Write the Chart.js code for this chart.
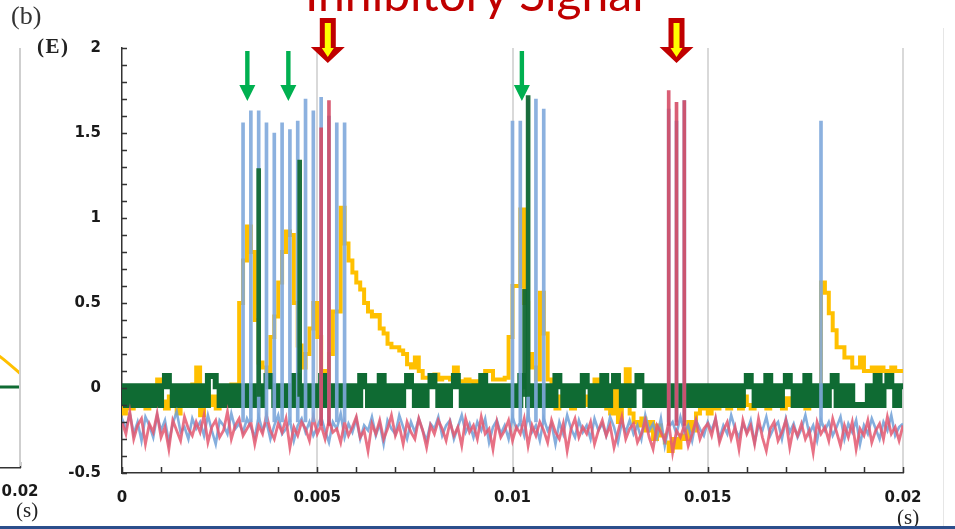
<!DOCTYPE html>
<html><head><meta charset="utf-8">
<script src="https://cdn.jsdelivr.net/npm/chart.js@4.4.1/dist/chart.umd.min.js"></script>
<style>
html,body{margin:0;padding:0;background:#fff;}
#wrap{position:relative;width:955px;height:529px;overflow:hidden;background:#fff;}
#left{position:absolute;left:-200px;top:0;z-index:1;}
#main{position:absolute;left:0;top:0;z-index:2;}
.t{position:absolute;white-space:nowrap;z-index:3;}
#title{left:305px;top:-31px;font:48px Lato, sans-serif;color:#c00000;line-height:48px;}
#lb{left:11px;top:1px;font:26px "Liberation Serif",serif;color:#333;}
#le{left:37px;top:34px;font:bold 21px "Liberation Serif",serif;color:#222;letter-spacing:1.5px;}
#s1{left:897px;top:505px;font:21px "Liberation Serif",serif;color:#222;}
#s0{left:16px;top:498px;font:21px "Liberation Serif",serif;color:#222;}
#bar{position:absolute;left:0;bottom:0;width:955px;height:3px;background:#2b4e8c;z-index:3;}
#edge{position:absolute;left:943px;top:28px;width:1px;height:498px;background:#e6e6e6;z-index:0;}
#lgrid{position:absolute;left:19px;top:48px;width:2px;height:418px;background:#cfcfcf;z-index:4;}
</style></head>
<body><div id="wrap">
<div id="edge"></div>
<canvas id="left" width="260" height="529"></canvas>
<canvas id="main" width="955" height="529"></canvas>
<div id="lgrid"></div>
<div class="t" id="title">Inhibitory Signal</div>
<div class="t" id="lb">(b)</div>
<div class="t" id="le">(E)</div>
<div class="t" id="s1">(s)</div>
<div class="t" id="s0">(s)</div>
<div id="bar"></div>
</div>
<script>
// ---- data (sampled every 0.1 ms, 0 .. 0.02 s) ----
const SAMPLE_STEP = 0.0001;
const blueNoise = [
-0.18,-0.24,-0.15,-0.27,-0.2,-0.31,-0.17,-0.22,-0.29,-0.16,
-0.25,-0.19,-0.32,-0.21,-0.14,-0.26,-0.23,-0.3,-0.18,-0.24,
-0.2,-0.28,-0.16,-0.25,-0.33,-0.19,-0.22,-0.27,-0.15,-0.24,
-0.21,-0.26,-0.18,-0.23,-0.29,-0.17,-0.25,-0.2,-0.3,-0.22,
-0.16,-0.27,-0.24,-0.19,-0.31,-0.22,-0.18,-0.26,-0.2,-0.28,
-0.23,-0.17,-0.25,-0.32,-0.2,-0.24,-0.15,-0.29,-0.21,-0.26,
-0.18,-0.3,-0.22,-0.25,-0.17,-0.28,-0.21,-0.33,-0.19,-0.24,
-0.27,-0.16,-0.23,-0.3,-0.2,-0.26,-0.18,-0.25,-0.31,-0.21,
-0.24,-0.17,-0.28,-0.22,-0.19,-0.3,-0.23,-0.16,-0.26,-0.21,
-0.29,-0.2,-0.25,-0.18,-0.32,-0.23,-0.19,-0.27,-0.22,-0.3,
-0.17,-0.24,-0.2,-0.28,-0.15,-0.26,-0.22,-0.31,-0.18,-0.25,
-0.21,-0.33,-0.2,-0.27,-0.16,-0.24,-0.29,-0.19,-0.26,-0.22,
-0.3,-0.18,-0.25,-0.21,-0.28,-0.17,-0.23,-0.32,-0.2,-0.26,
-0.19,-0.27,-0.22,-0.3,-0.16,-0.25,-0.21,-0.29,-0.18,-0.34,
-0.23,-0.2,-0.27,-0.17,-0.26,-0.22,-0.31,-0.19,-0.24,-0.28,
-0.2,-0.25,-0.18,-0.3,-0.22,-0.27,-0.16,-0.24,-0.29,-0.21,
-0.26,-0.19,-0.32,-0.22,-0.25,-0.17,-0.28,-0.23,-0.2,-0.3,
-0.18,-0.26,-0.21,-0.29,-0.24,-0.16,-0.27,-0.22,-0.31,-0.19,
-0.25,-0.2,-0.28,-0.23,-0.17,-0.3,-0.21,-0.26,-0.19,-0.33,
-0.22,-0.27,-0.18,-0.24,-0.3,-0.2,-0.25,-0.16,-0.28,-0.23,
-0.21];
const redNoise = [
-0.2,-0.27,-0.14,-0.3,-0.22,-0.18,-0.33,-0.21,-0.26,-0.15,
-0.29,-0.23,-0.36,-0.19,-0.25,-0.31,-0.17,-0.24,-0.28,-0.2,
-0.26,-0.16,-0.32,-0.23,-0.19,-0.29,-0.25,-0.14,-0.3,-0.22,
-0.18,-0.28,-0.24,-0.2,-0.33,-0.22,-0.27,-0.16,-0.25,-0.3,
-0.21,-0.26,-0.18,-0.35,-0.23,-0.28,-0.2,-0.24,-0.31,-0.17,
-0.27,-0.22,-0.3,-0.19,-0.26,-0.24,-0.32,-0.2,-0.28,-0.23,
-0.17,-0.29,-0.25,-0.37,-0.21,-0.27,-0.19,-0.3,-0.24,-0.16,
-0.28,-0.22,-0.33,-0.2,-0.26,-0.3,-0.18,-0.25,-0.35,-0.22,
-0.27,-0.19,-0.24,-0.31,-0.2,-0.28,-0.23,-0.34,-0.18,-0.26,
-0.22,-0.3,-0.17,-0.27,-0.24,-0.36,-0.2,-0.29,-0.25,-0.19,
-0.31,-0.23,-0.27,-0.18,-0.34,-0.22,-0.28,-0.2,-0.25,-0.32,
-0.19,-0.26,-0.3,-0.21,-0.37,-0.24,-0.18,-0.29,-0.23,-0.27,
-0.2,-0.33,-0.25,-0.19,-0.28,-0.22,-0.35,-0.26,-0.17,-0.3,
-0.24,-0.21,-0.32,-0.27,-0.19,-0.29,-0.36,-0.22,-0.26,-0.31,
-0.2,-0.38,-0.25,-0.29,-0.22,-0.34,-0.27,-0.19,-0.3,-0.24,
-0.21,-0.28,-0.18,-0.32,-0.25,-0.2,-0.3,-0.23,-0.36,-0.19,
-0.27,-0.22,-0.33,-0.18,-0.29,-0.37,-0.24,-0.2,-0.31,-0.26,
-0.19,-0.35,-0.23,-0.28,-0.21,-0.3,-0.25,-0.38,-0.2,-0.27,
-0.23,-0.31,-0.18,-0.26,-0.34,-0.22,-0.29,-0.2,-0.36,-0.24,
-0.28,-0.19,-0.32,-0.25,-0.21,-0.3,-0.17,-0.27,-0.23,-0.31,
-0.22];
const greenTrace = [
-0.1,0.01,-0.1,0.01,-0.1,0.01,-0.1,0.01,-0.1,0.01,
-0.1,0.01,0.07,0.01,-0.1,0.01,-0.1,0.01,-0.1,0.01,
-0.1,0.01,-0.1,0.07,0.07,0.01,-0.1,0.01,-0.1,0.01,
-0.1,0.01,-0.1,0.01,-0.1,0.01,-0.1,0.01,0.07,0.01,
-0.1,0.01,-0.1,0.01,-0.1,0.07,-0.1,0.01,-0.1,0.01,
-0.1,0.01,0.07,-0.1,0.01,-0.1,0.01,-0.1,0.01,-0.1,
0.01,-0.1,0.07,0.01,-0.1,0.01,-0.1,0.07,-0.1,0.01,
-0.1,0.01,-0.1,0.01,0.07,0.01,-0.1,0.01,-0.1,0.01,
0.07,0.01,-0.1,0.01,-0.1,0.01,0.07,0.01,-0.1,0.01,
-0.1,0.01,-0.1,0.07,-0.1,0.01,-0.1,0.01,-0.1,0.01,
-0.1,0.01,-0.1,0.07,0.01,-0.1,0.01,-0.1,0.01,-0.1,
0.01,-0.1,0.07,0.01,-0.1,0.01,-0.1,0.01,-0.1,0.07,
0.01,-0.1,0.01,-0.1,0.07,-0.1,0.01,0.07,0.01,-0.1,
0.01,-0.1,0.01,0.07,0.01,-0.1,0.01,-0.1,0.01,-0.1,
0.01,-0.1,0.01,-0.1,0.01,-0.1,0.01,-0.1,0.01,-0.1,
0.01,-0.1,0.01,-0.1,0.01,-0.1,0.01,-0.1,0.01,-0.1,
0.01,0.07,0.01,-0.1,0.01,-0.1,0.07,-0.1,0.01,-0.1,
0.01,0.07,0.01,-0.1,0.01,-0.1,0.07,-0.1,0.01,-0.1,
0.01,-0.1,0.01,0.07,-0.1,0.01,-0.1,0.01,-0.1,-0.1,
-0.1,-0.1,0.01,-0.1,0.07,-0.1,0.01,0.07,0.01,-0.1,
0.01];
const yellowTrace = [
-0.1,-0.15,-0.05,-0.12,-0.08,-0.1,-0.05,-0.12,-0.1,-0.06,
0.05,-0.08,-0.12,-0.05,-0.1,-0.15,-0.06,-0.1,-0.05,0.02,
0.12,-0.16,-0.08,-0.1,-0.05,-0.12,-0.08,-0.1,-0.04,0.02,
0.0,0.5,0.75,0.95,0.8,0.4,0.15,0.12,0.05,0.3,
0.42,0.62,0.8,0.92,0.9,0.5,0.25,0.12,0.2,0.35,
0.5,0.3,0.1,0.05,0.2,0.45,0.45,1.06,0.85,0.75,
0.68,0.62,0.58,0.5,0.45,0.42,0.43,0.35,0.32,0.26,
0.24,0.24,0.22,0.2,0.14,0.12,0.18,0.1,0.06,0.06,
0.06,0.08,0.05,0.06,0.06,0.05,0.12,0.04,0.04,0.05,
0.04,0.03,0.04,0.04,0.1,0.1,0.05,0.05,0.05,0.06,
0.3,0.6,0.6,1.05,0.5,0.2,0.12,0.05,0.56,0.32,
0.05,-0.08,-0.12,-0.05,-0.1,-0.06,-0.12,-0.08,-0.1,-0.05,
-0.1,-0.08,0.05,-0.1,0.05,-0.12,-0.15,0.0,-0.2,-0.1,
0.11,-0.15,-0.2,-0.22,-0.18,-0.25,-0.2,-0.3,-0.22,-0.28,
-0.32,-0.37,-0.3,-0.35,-0.28,-0.3,-0.2,-0.25,-0.15,-0.12,
-0.1,-0.15,-0.08,-0.12,-0.1,-0.06,-0.12,-0.1,-0.08,-0.12,
-0.05,-0.1,-0.12,-0.06,-0.1,-0.08,-0.12,-0.05,-0.1,-0.08,
-0.12,-0.06,-0.1,-0.08,-0.05,-0.1,-0.12,-0.06,-0.1,0.0,
0.62,0.56,0.44,0.34,0.24,0.24,0.18,0.18,0.12,0.12,
0.18,0.1,0.1,0.12,0.08,0.12,0.1,0.1,0.12,0.1,
0.1];
// spikes (time s, peak value), drawn from the noise baseline
const blueSpikeT = [0.0031,0.0033,0.0035,0.0037,0.0039,0.0041,0.0043,0.0045,0.0047,0.0049,0.0051,0.0053,0.0055,0.0057,
                    0.0100,0.0102,0.0104,0.0106,0.0108, 0.0140,0.0142,0.0144, 0.0179];
const blueSpikeV = [1.56,1.63,1.63,1.56,1.50,1.56,1.52,1.57,1.70,1.63,1.71,1.60,1.56,1.56,
                    1.57,1.57,1.70,1.70,1.64, 1.64,1.57,1.69, 1.57];
const blueSpikeBase = -0.2;
const redSpikeT = [0.0051,0.0053,0.0140,0.0142,0.0144];
const redSpikeV = [1.53,1.69,1.75,1.68,1.69];
const redSpikeBase = -0.22;
const greenSpikeT = [0.0035,0.00455,0.01031,0.0104];
const greenSpikeV = [1.29,1.34,0.58,1.72];
const greenSpikeBase = -0.05;
// annotation arrows (time s)
const inhibitoryArrowT = [0.00527,0.01420];
const excitatoryArrowT = [0.00321,0.00426,0.01024];
// left (previous) panel tail
const leftT = [0.0144,0.016,0.017,0.018,0.0185,0.019,0.0195,0.02];
const leftYellow = [0.9,0.7,0.55,0.4,0.33,0.26,0.18,0.085];
const leftGreen = [0,0,0,0,0,0,0,0];
const xTickLabels = ['0','0.005','0.01','0.015','0.02'];
const yTickLabels = ['-0.5','0','0.5','1','1.5','2'];

// ---- helpers ----
const times = blueNoise.map((_, i) => +(i * SAMPLE_STEP).toFixed(4));
const pts = arr => arr.map((v, i) => ({x: times[i], y: v}));
const bars = (ts, vs, base) => ts.map((t, i) => ({x: t, y: [base, vs[i]]}));
const isMajorX = v => Math.abs(v / 0.005 - Math.round(v / 0.005)) < 1e-6;
const isMajorY = v => Math.abs(v * 2 - Math.round(v * 2)) < 1e-6;
const xLabel = v => { if (!isMajorX(v)) return ''; const k = Math.round(v / 0.005); return xTickLabels[k] ?? ''; };
const yLabel = v => { if (!isMajorY(v)) return ''; const k = Math.round(v * 2) + 1; return yTickLabels[k] ?? ''; };
const tickFont = {family: 'DejaVu Sans', weight: 'bold', size: 15};
const AXIS = '#333';

const innerTicks = {
  id: 'innerTicks',
  afterDraw(chart) {
    const {ctx, chartArea: a, scales} = chart;
    ctx.save();
    ctx.strokeStyle = AXIS; ctx.lineWidth = 1.5;
    ctx.beginPath();
    if (scales.y && scales.y.options.display !== false) {
      scales.y.ticks.forEach(t => { const py = Math.round(scales.y.getPixelForValue(t.value)) + 0.5; ctx.moveTo(a.left, py); ctx.lineTo(a.left + 5, py); });
    }
    const xs = scales.x;
    xs.ticks.forEach(t => { const px = Math.round(xs.getPixelForValue(t.value)) + 0.5; if (px < a.left - 1 || px > a.right + 1) return; ctx.moveTo(px, a.bottom); ctx.lineTo(px, a.bottom - 6); });
    ctx.stroke();
    ctx.restore();
  }
};

const arrows = {
  id: 'arrows',
  afterDraw(chart) {
    const {ctx, scales: {x}} = chart;
    ctx.save();
    inhibitoryArrowT.forEach(t => {
      const cx = x.getPixelForValue(t);
      ctx.fillStyle = '#c00000';
      ctx.beginPath();
      ctx.moveTo(cx - 8, 18); ctx.lineTo(cx + 8, 18); ctx.lineTo(cx + 8, 47); ctx.lineTo(cx + 17, 47);
      ctx.lineTo(cx, 63); ctx.lineTo(cx - 17, 47); ctx.lineTo(cx - 8, 47); ctx.closePath(); ctx.fill();
      ctx.fillStyle = '#ffff00';
      ctx.beginPath();
      ctx.moveTo(cx - 3, 23); ctx.lineTo(cx + 3, 23); ctx.lineTo(cx + 3, 48); ctx.lineTo(cx + 6, 48);
      ctx.lineTo(cx, 57); ctx.lineTo(cx - 6, 48); ctx.lineTo(cx - 3, 48); ctx.closePath(); ctx.fill();
    });
    excitatoryArrowT.forEach(t => {
      const cx = x.getPixelForValue(t);
      ctx.fillStyle = '#00b050';
      ctx.beginPath();
      ctx.moveTo(cx - 2.2, 51); ctx.lineTo(cx + 2.2, 51); ctx.lineTo(cx + 2.2, 85); ctx.lineTo(cx + 8, 85);
      ctx.lineTo(cx, 101); ctx.lineTo(cx - 8, 85); ctx.lineTo(cx - 2.2, 85); ctx.closePath(); ctx.fill();
    });
    ctx.restore();
  }
};

const lineDs = (label, data, color, width, stepped) => ({type: 'line', label, data, borderColor: color, borderWidth: width,
  pointRadius: 0, tension: 0, fill: false, stepped: stepped || false, borderJoinStyle: 'miter'});
const barDs = (label, data, color, thick) => ({type: 'bar', label, data, backgroundColor: color, borderWidth: 0,
  barThickness: thick, grouped: false});

new Chart(document.getElementById('main'), {
  type: 'line',
  data: {datasets: [
    barDs('red spikes', bars(redSpikeT, redSpikeV, redSpikeBase), 'rgba(212,72,98,0.88)', 3),
    barDs('green spikes', bars(greenSpikeT, greenSpikeV, greenSpikeBase), 'rgba(18,105,52,0.95)', 4),
    barDs('blue spikes', bars(blueSpikeT, blueSpikeV, blueSpikeBase), 'rgba(128,168,220,0.9)', 3),
    lineDs('red', pts(redNoise), 'rgba(228,88,112,0.85)', 2.8),
    lineDs('blue', pts(blueNoise), 'rgba(112,160,215,0.85)', 2.6),
    lineDs('green', pts(greenTrace), '#0f6b33', 6, 'after'),
    lineDs('yellow', pts(yellowTrace), '#ffc000', 4, 'after')
  ]},
  options: {
    responsive: false, animation: false, devicePixelRatio: 1,
    layout: {padding: {left: 0, right: 52, top: 48, bottom: 0}},
    scales: {
      x: {type: 'linear', min: 0, max: 0.02, offset: false,
        afterFit(s) { s.height = 56; },
        grid: {offset: false, drawTicks: false, lineWidth: 2, color: c => (c.tick && isMajorX(c.tick.value) && c.tick.value > 0) ? '#d9d9d9' : 'rgba(0,0,0,0)'},
        border: {color: AXIS, width: 1.5},
        ticks: {stepSize: 0.001, autoSkip: false, maxRotation: 0, padding: 16, font: tickFont, color: '#1a1a1a', callback: xLabel}},
      y: {type: 'linear', min: -0.5, max: 2,
        afterFit(s) { s.width = 122; },
        grid: {display: false, drawTicks: false},
        border: {color: AXIS, width: 1.5},
        ticks: {stepSize: 0.1, autoSkip: false, padding: 21, font: tickFont, color: '#1a1a1a', callback: yLabel}}
    },
    plugins: {legend: {display: false}, tooltip: {enabled: false}}
  },
  plugins: [innerTicks, arrows]
});

new Chart(document.getElementById('left'), {
  type: 'line',
  data: {datasets: [
    {data: leftT.map((t, i) => ({x: t, y: leftGreen[i]})), borderColor: '#0f6b33', borderWidth: 3, pointRadius: 0},
    {data: leftT.map((t, i) => ({x: t, y: leftYellow[i]})), borderColor: '#ffc000', borderWidth: 3, pointRadius: 0, tension: 0.3}
  ]},
  options: {
    responsive: false, animation: false, devicePixelRatio: 1,
    layout: {padding: {left: 0, right: 40, top: 47, bottom: 0}},
    scales: {
      x: {type: 'linear', min: 0.0144, max: 0.02,
        afterFit(s) { s.height = 61; },
        grid: {display: false, drawTicks: false},
        border: {color: AXIS, width: 1.5},
        ticks: {stepSize: 0.001, autoSkip: false, maxRotation: 0, padding: 15, font: tickFont, color: '#1a1a1a', callback: xLabel}},
      y: {display: false, min: -0.5, max: 2.1}
    },
    plugins: {legend: {display: false}, tooltip: {enabled: false}}
  },
  plugins: [innerTicks]
});
</script>
</body></html>
